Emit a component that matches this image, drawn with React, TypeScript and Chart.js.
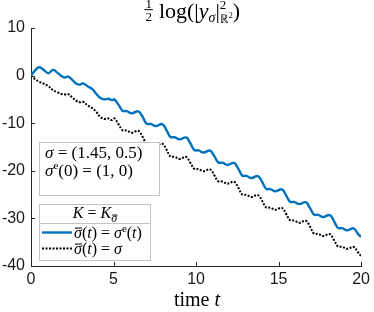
import React, { useEffect, useRef } from 'react';
import { Chart, registerables } from 'chart.js';

Chart.register(...registerables);

// time samples (shared by both series)
const times = [
  0, 0.2, 0.5, 0.8, 1.05, 1.35, 1.6, 1.85, 2.05, 2.25, 2.5, 2.75, 2.95, 3.15, 3.45, 3.7, 3.95, 4.2, 4.45, 4.7, 4.9, 5.05,
  5.3, 5.55, 5.8, 6.1,
  6.5, 6.75, 7.0, 7.25, 7.55,
  7.95, 8.2, 8.45, 8.7, 9.0,
  9.4, 9.65, 9.9, 10.15, 10.45,
  10.85, 11.1, 11.35, 11.6, 11.9,
  12.3, 12.55, 12.8, 13.05, 13.35,
  13.75, 14.0, 14.25, 14.5, 14.8,
  15.2, 15.45, 15.7, 15.95, 16.25,
  16.65, 16.9, 17.15, 17.4, 17.7,
  18.1, 18.35, 18.6, 18.85, 19.15,
  19.55, 19.8, 20.0,
];

// sigma-bar(t) = sigma^e(t)  (blue, solid)
const blueValues = [
  0, 0.9, 1.75, 1.1, 0.5, 1.2, 0.6, -0.1, -0.4, -0.2, -0.9, -1.7, -1.9, -1.65, -2.3, -2.8, -3.8, -4.7, -5.0, -4.85, -5.15, -5.0,
  -6.1, -7.4, -7.45, -7.9,
  -7.5, -8.6, -10.1, -10.15, -10.6,
  -10.2, -11.4, -12.9, -12.95, -13.4,
  -13.0, -14.2, -15.65, -15.7, -16.15,
  -15.75, -16.9, -18.25, -18.3, -18.75,
  -18.35, -19.5, -21.0, -21.05, -21.5,
  -21.1, -22.3, -23.8, -23.85, -24.3,
  -23.9, -25.1, -26.5, -26.55, -27.0,
  -26.6, -27.8, -29.2, -29.25, -29.7,
  -29.3, -30.5, -32.0, -32.05, -32.5,
  -32.1, -33.2, -33.9,
];

// sigma-bar(t) = sigma  (black, dotted)
const blackValues = [
  0, -0.6, -1.3, -1.75, -2.2, -3.1, -3.5, -3.85, -3.95, -3.9, -4.6, -5.3, -5.6, -5.5, -6.3, -6.8, -7.6, -8.7, -9.1, -9.0, -9.35, -9.0,
  -10.2, -11.5, -11.55, -12.0,
  -11.6, -12.8, -14.2, -14.25, -14.7,
  -14.3, -15.5, -17.0, -17.05, -17.5,
  -17.1, -18.3, -19.6, -19.65, -20.1,
  -19.7, -20.9, -22.2, -22.25, -22.7,
  -22.3, -23.5, -25.0, -25.05, -25.5,
  -25.1, -26.3, -27.7, -27.75, -28.2,
  -27.8, -29.0, -30.4, -30.45, -30.9,
  -30.5, -31.7, -33.2, -33.25, -33.7,
  -33.3, -34.5, -35.9, -35.95, -36.4,
  -36.0, -37.1, -37.9,
];

const xRange = [0, 20];
const xStep = 5;
const yRange = [-40, 10];
const yStep = 10;

const BLUE = '#0072BD';
const AXIS = '#262626';
const SERIF = '"Liberation Serif", "Times New Roman", serif';

type Seg = { t?: string; s?: number; i?: boolean; dy?: number; over?: boolean; na?: boolean; frac?: [string, string] };

function fnt(size: number, italic: boolean) {
  return `${italic ? 'italic ' : ''}${size}px ${SERIF}`;
}

function segWidth(ctx: CanvasRenderingContext2D, seg: Seg, base: number) {
  const size = seg.s ?? base;
  if (seg.frac) {
    ctx.font = fnt(size, false);
    return Math.max(ctx.measureText(seg.frac[0]).width, ctx.measureText(seg.frac[1]).width) + 3;
  }
  ctx.font = fnt(size, !!seg.i);
  return ctx.measureText(seg.t || '').width;
}

function drawRich(ctx: CanvasRenderingContext2D, segs: Seg[], x: number, y: number, base: number, align: 'left' | 'center') {
  const ws = segs.map((s) => (s.na ? 0 : segWidth(ctx, s, base)));
  const total = ws.reduce((a, b) => a + b, 0);
  let cx = align === 'center' ? x - total / 2 : x;
  ctx.textBaseline = 'alphabetic';
  ctx.textAlign = 'left';
  segs.forEach((s, k) => {
    const size = s.s ?? base;
    if (s.frac) {
      ctx.font = fnt(size, false);
      const w = ws[k];
      const mid = y - base * 0.38;
      ctx.textAlign = 'center';
      ctx.fillText(s.frac[0], cx + w / 2, mid - 2);
      ctx.fillText(s.frac[1], cx + w / 2, mid + size * 0.72 + 2);
      ctx.textAlign = 'left';
      ctx.fillRect(cx + 0.5, mid - 0.5, w - 1, 1);
    } else {
      ctx.font = fnt(size, !!s.i);
      ctx.fillText(s.t || '', cx, y + (s.dy ?? 0));
      if (s.over) {
        const w = ctx.measureText(s.t || '').width;
        ctx.fillRect(cx + 1, y + (s.dy ?? 0) - size * 0.62, w - 1, 1);
      }
    }
    cx += ws[k];
  });
}

const decor = {
  id: 'decor',
  afterDraw(chart: any) {
    const ctx: CanvasRenderingContext2D = chart.ctx;
    const xs = chart.scales.x;
    const ys = chart.scales.y;
    const area = chart.chartArea;
    ctx.save();
    // inward tick marks
    ctx.strokeStyle = AXIS;
    ctx.lineWidth = 1;
    ctx.beginPath();
    xs.ticks.forEach((t: any) => {
      const px = Math.round(xs.getPixelForValue(t.value)) + 0.5;
      ctx.moveTo(px, area.bottom);
      ctx.lineTo(px, area.bottom - 4);
    });
    ys.ticks.forEach((t: any) => {
      const py = Math.round(ys.getPixelForValue(t.value)) + 0.5;
      ctx.moveTo(area.left, py);
      ctx.lineTo(area.left + 4, py);
    });
    ctx.stroke();

    ctx.fillStyle = '#000';
    // title
    drawRich(ctx, [
      { frac: ['1', '2'], s: 13 },
      { t: ' log(|' },
      { t: 'y', i: true },
      { t: 'σ', i: true, s: 14, dy: 4 },
      { t: '|' },
      { t: '2', s: 13, dy: -9, na: true },
      { t: 'ℝ', s: 12, dy: 5 },
      { t: '2', s: 8, dy: 0 },
      { t: ')' },
    ], 192, 18, 22, 'center');

    // x axis label
    drawRich(ctx, [{ t: 'time ' }, { t: 't', i: true }], 197, 306, 20, 'center');

    // annotation box
    ctx.fillStyle = '#fff';
    ctx.fillRect(39, 142, 120, 53);
    ctx.strokeStyle = '#c4c4c4';
    ctx.strokeRect(39.5, 142.5, 120, 53);
    ctx.fillStyle = '#000';
    drawRich(ctx, [{ t: 'σ', i: true }, { t: ' = (1.45, 0.5)' }], 45, 158, 17, 'left');
    drawRich(ctx, [{ t: 'σ', i: true }, { t: 'e', s: 11, dy: -7 }, { t: '(0) = (1, 0)' }], 45, 176, 17, 'left');

    // legend box
    ctx.fillStyle = '#fff';
    ctx.fillRect(39, 204, 111, 56);
    ctx.strokeStyle = '#c4c4c4';
    ctx.strokeRect(39.5, 204.5, 111, 56);
    ctx.beginPath();
    ctx.moveTo(39.5, 223.5);
    ctx.lineTo(150.5, 223.5);
    ctx.stroke();
    ctx.fillStyle = '#000';
    drawRich(ctx, [
      { t: 'K', i: true }, { t: ' = ' }, { t: 'K', i: true }, { t: 'σ', i: true, s: 12, dy: 4, over: true },
    ], 95, 218, 16, 'center');
    // legend samples
    ctx.lineWidth = 2.4;
    ctx.strokeStyle = BLUE;
    ctx.beginPath();
    ctx.moveTo(42, 232.5);
    ctx.lineTo(72, 232.5);
    ctx.stroke();
    ctx.strokeStyle = '#000';
    ctx.lineWidth = 2;
    ctx.setLineDash([2, 1.5]);
    ctx.beginPath();
    ctx.moveTo(42, 248.5);
    ctx.lineTo(72, 248.5);
    ctx.stroke();
    ctx.setLineDash([]);
    drawRich(ctx, [
      { t: 'σ', i: true, over: true }, { t: '(' }, { t: 't', i: true }, { t: ') = ' },
      { t: 'σ', i: true }, { t: 'e', s: 11, dy: -6 }, { t: '(' }, { t: 't', i: true }, { t: ')' },
    ], 74, 237.5, 16, 'left');
    drawRich(ctx, [
      { t: 'σ', i: true, over: true }, { t: '(' }, { t: 't', i: true }, { t: ') = ' }, { t: 'σ', i: true },
    ], 74, 253.5, 16, 'left');
    ctx.restore();
  },
};

export default function App() {
  const ref = useRef<HTMLCanvasElement>(null);
  useEffect(() => {
    const tickFont = { family: '"Liberation Sans", Arial, sans-serif', size: 16 };
    const chart = new Chart(ref.current as HTMLCanvasElement, {
      type: 'line',
      data: {
        datasets: [
          {
            label: 'σ̄(t) = σe(t)',
            data: times.map((t, i) => ({ x: t, y: blueValues[i] })),
            borderColor: BLUE,
            borderWidth: 2.4,
            pointRadius: 0,
            tension: 0.4,
            fill: false,
          },
          {
            label: 'σ̄(t) = σ',
            data: times.map((t, i) => ({ x: t, y: blackValues[i] })),
            borderColor: '#000',
            borderWidth: 2,
            borderDash: [2, 1.5],
            pointRadius: 0,
            tension: 0.4,
            fill: false,
          },
        ],
      },
      options: {
        animation: false,
        responsive: false,
        devicePixelRatio: 1,
        layout: { padding: { top: 28, right: 10, left: 0, bottom: 0 } },
        plugins: { legend: { display: false }, tooltip: { enabled: false }, title: { display: false } },
        scales: {
          x: {
            type: 'linear',
            min: xRange[0],
            max: xRange[1],
            ticks: { stepSize: xStep, color: '#1a1a1a', font: tickFont, padding: 4, autoSkip: false, maxRotation: 0 },
            grid: { display: false, drawTicks: false },
            border: { display: true, color: AXIS, width: 1 },
            afterFit: (s: any) => { s.height = 46; },
          },
          y: {
            type: 'linear',
            min: yRange[0],
            max: yRange[1],
            ticks: { stepSize: yStep, color: '#1a1a1a', font: tickFont, padding: 6 },
            grid: { display: false, drawTicks: false },
            border: { display: true, color: AXIS, width: 1 },
            afterFit: (s: any) => { s.width = 31; },
          },
        },
      } as any,
      plugins: [decor],
    });
    return () => chart.destroy();
  }, []);
  return (
    <div style={{ position: 'absolute', left: 0, top: 0, width: 374, height: 312, background: '#fff' }}>
      <canvas ref={ref} width={374} height={312} style={{ display: 'block', width: 374, height: 312 }} />
    </div>
  );
}
